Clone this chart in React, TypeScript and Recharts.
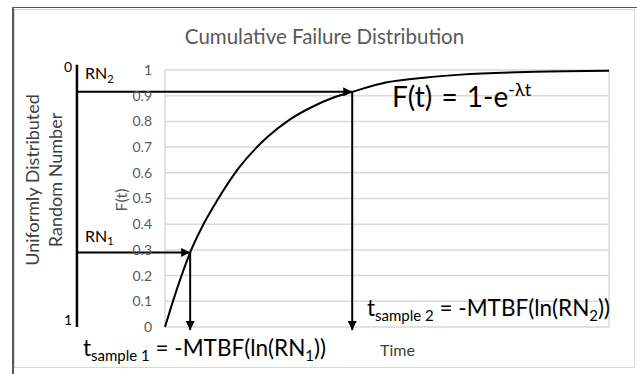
import React from 'react';
import { LineChart, Line, XAxis, YAxis, CartesianGrid, ReferenceLine } from 'recharts';

// curve (time in grid units, F(t) as fraction)
const timeValues = [0, 0.17, 0.34, 0.52, 0.7, 1.0, 1.38, 1.69, 2.0, 2.27, 2.53, 3.0, 3.5, 4.0, 5.0, 6.0];
const failureValues = [0, 0.155, 0.29, 0.4, 0.49, 0.62, 0.738, 0.808, 0.858, 0.892, 0.915, 0.952, 0.97, 0.982, 0.993, 0.997];

// the two random-number samples
const sampleRN = [0.29, 0.915];
const sampleTimes = [0.34, 2.53];

const timeTicks = [0, 1, 2, 3, 4, 5, 6];
const fTicks = [0, 0.1, 0.2, 0.3, 0.4, 0.5, 0.6, 0.7, 0.8, 0.9, 1];

// where the "uniformly distributed" scale stands, on the time axis
const RN_AXIS_T = -1.19;
const RN_AXIS_TOP = 1.02;

const FONT = 'Lato, "Open Sans", sans-serif';

const data = timeValues.map((t, i) => ({ t, F: failureValues[i] }));

const arrow = (p: any) => (
  <line x1={p.x1} y1={p.y1} x2={p.x2} y2={p.y2} stroke="#000" strokeWidth={2} markerEnd="url(#arrowHead)" />
);
const plain = (p: any) => (
  <line x1={p.x1} y1={p.y1} x2={p.x2} y2={p.y2} stroke="#000" strokeWidth={2.5} />
);

const Txt = ({ x, y, size, color = '#000', children, style }: any) => (
  <div
    style={{
      position: 'absolute',
      left: x,
      top: y,
      fontSize: size,
      lineHeight: 1,
      color,
      fontFamily: FONT,
      whiteSpace: 'nowrap',
      ...style,
    }}
  >
    {children}
  </div>
);

const Rot = ({ cx, cy, size, color, children }: any) => (
  <Txt x={cx} y={cy} size={size} color={color} style={{ transform: 'translate(-50%, -50%) rotate(-90deg)' }}>
    {children}
  </Txt>
);

const sub = (size: number) => ({ fontSize: size, verticalAlign: 'baseline', position: 'relative' as const, top: size * 0.35 });

export default function App() {
  return (
    <div style={{ position: 'absolute', left: 0, top: 0, width: 637, height: 374, background: '#fff', overflow: 'hidden' }}>
      <svg width={0} height={0} style={{ position: 'absolute' }}>
        <defs>
          <marker id="arrowHead" viewBox="0 0 10 10" refX={10} refY={5} markerWidth={9} markerHeight={9} markerUnits="userSpaceOnUse" orient="auto">
            <path d="M0,0 L10,5 L0,10 z" fill="#000" />
          </marker>
        </defs>
      </svg>

      {/* frame */}
      <div style={{ position: 'absolute', left: 14, top: 9, width: 619, height: 357, border: '1px solid #d9d9d9' }} />
      <div style={{ position: 'absolute', left: 12, top: 7, width: 640, height: 380, borderTop: '1.5px solid #595959', borderLeft: '2px solid #595959' }} />

      <div style={{ position: 'absolute', left: 0, top: 0 }}>
        <LineChart width={637} height={374} data={data} margin={{ top: 70, right: 28, bottom: 0, left: 0 }}>
          <CartesianGrid stroke="#d9d9d9" strokeWidth={1.5} />
          <XAxis
            dataKey="t"
            type="number"
            domain={[0, 6]}
            ticks={timeTicks}
            tick={false}
            tickLine={false}
            axisLine={false}
            height={47}
          />
          <YAxis
            type="number"
            domain={[0, 1]}
            ticks={fTicks}
            width={165}
            tickLine={false}
            axisLine={false}
            tickSize={0}
            tickMargin={13}
            tick={{ fontSize: 14, fill: '#595959', fontFamily: FONT }}
          />
          <Line
            type="monotone"
            dataKey="F"
            stroke="#000"
            strokeWidth={2}
            dot={false}
            isAnimationActive={false}
          />
          <ReferenceLine
            segment={[{ x: RN_AXIS_T, y: 0 }, { x: RN_AXIS_T, y: RN_AXIS_TOP }]}
            ifOverflow="visible"
            shape={plain}
          />
          {sampleRN.map((rn, i) => (
            <ReferenceLine
              key={'h' + i}
              segment={[{ x: RN_AXIS_T, y: rn }, { x: sampleTimes[i], y: rn }]}
              ifOverflow="visible"
              shape={arrow}
            />
          ))}
          {sampleRN.map((rn, i) => (
            <ReferenceLine
              key={'v' + i}
              segment={[{ x: sampleTimes[i], y: rn }, { x: sampleTimes[i], y: -0.012 }]}
              ifOverflow="visible"
              shape={arrow}
            />
          ))}
        </LineChart>
      </div>

      {/* texts */}
      <Txt x={324.5} y={25.5} size={20.5} color="#595959" style={{ transform: 'translateX(-50%)' }}>
        Cumulative Failure Distribution
      </Txt>
      <Rot cx={31.5} cy={180} size={18} color="#404040">Uniformly Distributed</Rot>
      <Rot cx={54.5} cy={180} size={18} color="#404040">Random Number</Rot>
      <Rot cx={121} cy={200} size={16} color="#595959">F(t)</Rot>
      <Txt x={72} y={60} size={14} style={{ transform: 'translateX(-100%)' }}>0</Txt>
      <Txt x={72} y={313} size={14} style={{ transform: 'translateX(-100%)' }}>1</Txt>
      <Txt x={85} y={65} size={16}>
        RN<span style={sub(11)}>2</span>
      </Txt>
      <Txt x={85} y={227.5} size={16}>
        RN<span style={sub(11)}>1</span>
      </Txt>
      <Txt x={392} y={82} size={28} style={{ wordSpacing: 2 }}>
        F(t) = 1-e<span style={{ fontSize: 18, position: 'relative', top: -11 }}>-λt</span>
      </Txt>
      <Txt x={367} y={297} size={22.5}>
        t<span style={sub(15)}>sample 2</span> = -MTBF(ln(RN<span style={sub(15)}>2</span>))
      </Txt>
      <Txt x={83} y={337} size={22.5}>
        t<span style={sub(15)}>sample 1</span> = -MTBF(ln(RN<span style={sub(15)}>1</span>))
      </Txt>
      <Txt x={380} y={342} size={16} color="#404040">Time</Txt>
    </div>
  );
}
